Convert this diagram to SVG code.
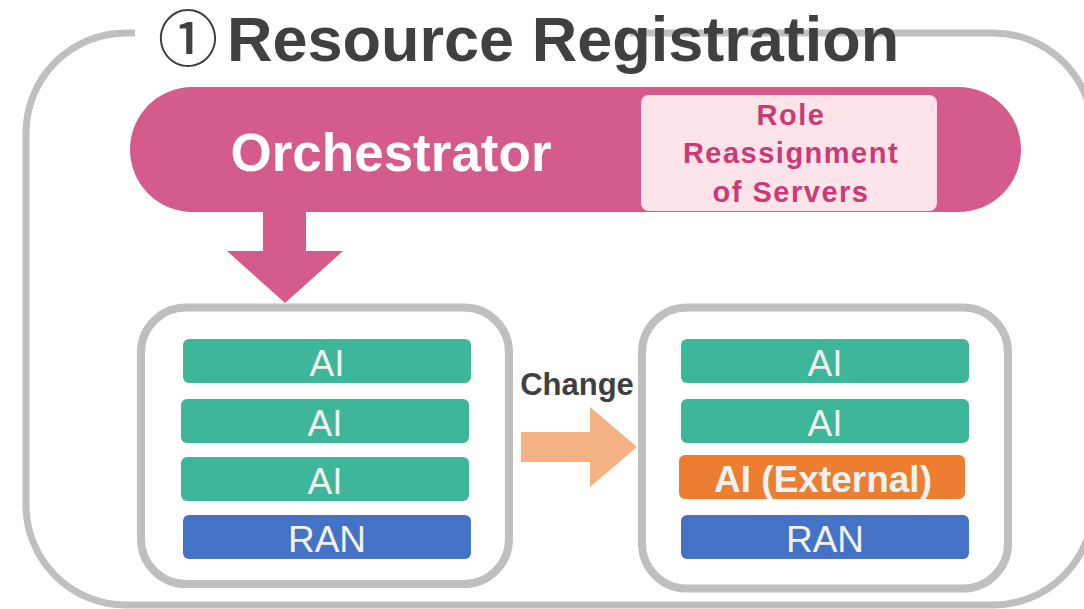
<svg xmlns="http://www.w3.org/2000/svg" width="1084" height="609" viewBox="0 0 1084 609">
  <style>
    .frame { fill: none; stroke: #bfbfbf; stroke-width: 7; }
    .server { fill: #ffffff; stroke: #bfbfbf; stroke-width: 8; }
    .ai { fill: #3db699; }
    .ran { fill: #4472c4; }
    .ext { fill: #ed7d31; }
    .blk { font-family: "Liberation Sans", Arial, sans-serif; font-size: 37px; fill: #f2f2f2; text-anchor: middle; }
    .bold { font-weight: bold; }
    .role { font-family: "Liberation Sans", Arial, sans-serif; font-size: 29px; font-weight: bold; fill: #cc3a74; text-anchor: middle; letter-spacing: 1.5px; }
  </style>

  <!-- outer frame, open at the top-left where the title sits -->
  <path class="frame" d="M630,33 H993 A100,100 0 0 1 1093,133 V505 A100,100 0 0 1 993,605 H126 A100,100 0 0 1 26,505 V133 A100,100 0 0 1 126,33 H135"/>

  <!-- title -->
  <g id="title">
    <text y="61" font-family="Liberation Sans, Arial, sans-serif" font-size="63" font-weight="bold" fill="#404040"><tspan x="158" font-family="Noto Sans CJK JP, sans-serif" font-weight="500" font-size="60">①</tspan><tspan x="227">Resource Registration</tspan></text>
  </g>

  <!-- orchestrator -->
  <g id="orchestrator">
    <rect x="130" y="87" width="891" height="125" rx="62.5" fill="#d55b8c"/>
    <text x="391" y="171" font-family="Liberation Sans, Arial, sans-serif" font-size="53" font-weight="bold" fill="#ffffff" text-anchor="middle">Orchestrator</text>
  </g>

  <g id="role-reassignment">
    <rect x="641" y="95" width="296" height="116" rx="8" fill="#fce4ea"/>
    <text class="role" x="791" y="125">Role</text>
    <text class="role" x="791" y="163">Reassignment</text>
    <text class="role" x="791" y="202">of Servers</text>
  </g>

  <!-- servers before the change -->
  <g id="server-before">
    <rect class="server" x="141" y="307.5" width="368" height="276.5" rx="45"/>
    <rect class="ai" x="183" y="339" width="288" height="44" rx="6"/>
    <text class="blk" x="327" y="376">AI</text>
    <rect class="ai" x="181" y="399" width="288" height="44" rx="6"/>
    <text class="blk" x="325" y="436">AI</text>
    <rect class="ai" x="181" y="457" width="288" height="44" rx="6"/>
    <text class="blk" x="325" y="494">AI</text>
    <rect class="ran" x="183" y="515" width="288" height="44" rx="6"/>
    <text class="blk" x="327" y="552">RAN</text>
  </g>

  <!-- servers after the change -->
  <g id="server-after">
    <rect class="server" x="642" y="307.5" width="366" height="281" rx="45"/>
    <rect class="ai" x="681" y="339" width="288" height="44" rx="6"/>
    <text class="blk" x="825" y="376">AI</text>
    <rect class="ai" x="681" y="399" width="288" height="44" rx="6"/>
    <text class="blk" x="825" y="436">AI</text>
    <rect class="ext" x="679" y="455" width="286" height="44" rx="6"/>
    <text class="blk bold" x="823" y="492">AI (External)</text>
    <rect class="ran" x="681" y="515" width="288" height="44" rx="6"/>
    <text class="blk" x="825" y="552">RAN</text>
  </g>

  <!-- connectors -->
  <g id="connectors">
    <polygon points="263,211 306,211 306,251 343,251 285,303 227,251 263,251" fill="#d55b8c"/>
    <polygon points="521,432 590,432 590,407 637,447 590,487 590,462 521,462" fill="#f4b183"/>
    <text x="577" y="395" font-family="Liberation Sans, Arial, sans-serif" font-size="31" font-weight="bold" fill="#404040" text-anchor="middle">Change</text>
  </g>
</svg>
